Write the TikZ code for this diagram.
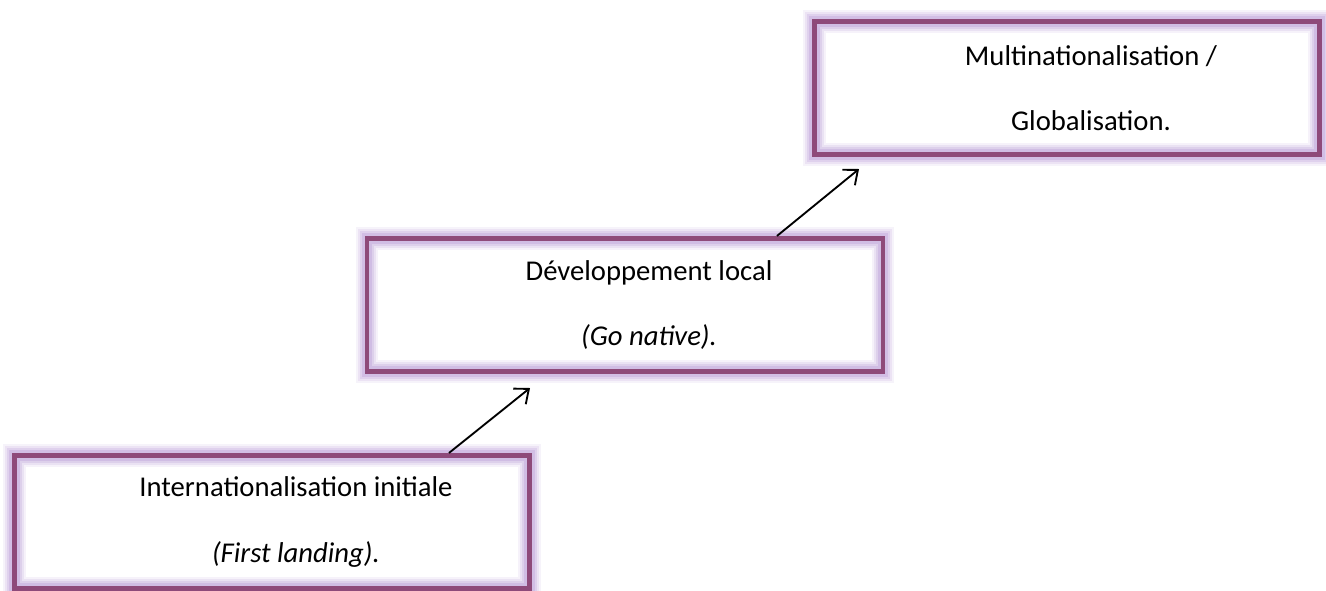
\documentclass[tikz,border=0pt]{standalone}
\usepackage{fontspec}
\setmainfont{Carlito}
\usetikzlibrary{
    positioning,
    arrows.meta
}
\definecolor{plum}{RGB}{142,74,122}
\definecolor{lilac}{RGB}{185,155,215}
\tikzset{
    >={Straight Barb[length=9pt, width=15pt]},
    stage/.style={
        draw=plum,
        line width=3.6pt,
        minimum height=100pt,
        align=center,
        font=\fontsize{21.5}{26}\selectfont,
        preaction={fill=white},
        preaction={draw=lilac, line width=17pt, opacity=0.12},
        preaction={draw=lilac, line width=14pt, opacity=0.18},
        preaction={draw=lilac, line width=11pt, opacity=0.25},
        preaction={draw=lilac, line width=8pt, opacity=0.35}
    }
}
% deux lignes, un peu decalees vers la droite
\newcommand{\stagetext}[2]{\hspace*{36pt}#1\\[23pt]\hspace*{36pt}#2}

\begin{document}
\begin{tikzpicture}[
    x=0.75pt, y=-0.75pt,
    line width=1.4pt
]
    \useasboundingbox (0,0) rectangle (1326,590);

    % Etapes
    \node[stage, minimum width=386pt] (initiale) at (272,522)
        {\stagetext{Internationalisation initiale}{\itshape (First landing).}};
    \node[stage, minimum width=387pt] (local)    at (625,305)
        {\stagetext{Développement local}{\itshape (Go native).}};
    \node[stage, minimum width=379pt] (globale)  at (1067,88)
        {\stagetext{Multinationalisation /}{Globalisation.}};

    % Pointes des fleches
    \coordinate (tip1) at (530,388);
    \coordinate (tip2) at (859,169);

    % Fleches
    \draw[->] ([xshift=132.75pt]initiale.north) -- (tip1);
    \draw[->] ([xshift=114pt]local.north) -- (tip2);

\end{tikzpicture}
\end{document}
